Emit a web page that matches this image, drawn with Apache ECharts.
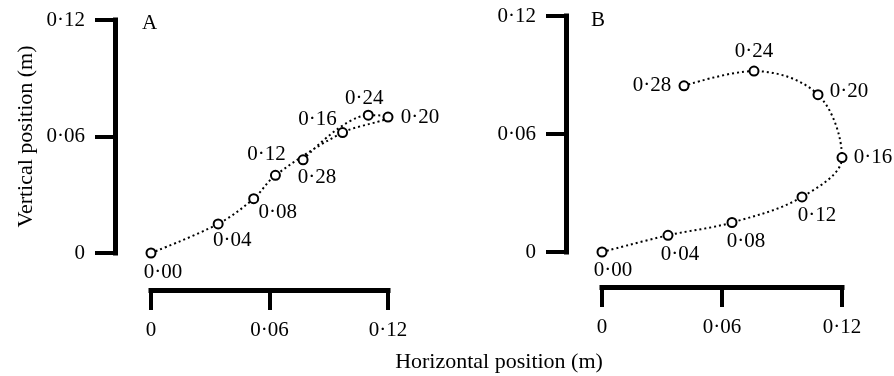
<!DOCTYPE html>
<html>
<head>
<meta charset="utf-8">
<script src="https://cdn.jsdelivr.net/npm/echarts@6/dist/echarts.min.js"></script>
<style>
  html, body { margin: 0; padding: 0; background: #fff; }
  #chart { width: 894px; height: 376px; }
</style>
</head>
<body>
<div id="chart"></div>
<script>
// time of each frame (s)
const times = [0, 0.04, 0.08, 0.12, 0.16, 0.2, 0.24, 0.28];
// panel A positions (m)
const xA = [0, 0.034, 0.052, 0.063, 0.097, 0.120, 0.110, 0.077];
const yA = [0, 0.015, 0.028, 0.040, 0.062, 0.070, 0.071, 0.048];
// panel B positions (m)
const xB = [0, 0.033, 0.065, 0.100, 0.120, 0.108, 0.076, 0.041];
const yB = [0, 0.0085, 0.015, 0.028, 0.048, 0.080, 0.092, 0.0845];
const axisTicks = [0, 0.06, 0.12];

// label offsets from each point (px)
const offA = [[12, 19], [14, 17], [24, 14], [-9, -21], [-25, -13], [32, 0], [-4, -17], [14, 18]];
const offB = [[11, 18], [12, 19], [14, 19], [15, 19], [31, 0], [31, -3], [0, -20], [-32, 0]];

const FONT = '"Liberation Serif", "DejaVu Serif", serif';
const dot = (v) => v.toFixed(2).replace('.', '\u00b7');
const tickFmt = (v) => (v === 0 ? '0' : dot(v));

const axisBase = (gridIndex, offset) => ({
  type: 'value',
  gridIndex,
  min: axisTicks[0],
  max: axisTicks[axisTicks.length - 1],
  interval: axisTicks[1] - axisTicks[0],
  offset,
  splitLine: { show: false },
  axisLine: { show: true, onZero: false, lineStyle: { color: '#000', width: 5, cap: 'square' } },
  axisTick: { show: true, length: 20, lineStyle: { color: '#000', width: 4 } },
  axisLabel: { color: '#000', fontFamily: FONT, fontSize: 21, margin: 30, formatter: tickFmt },
});

const makeSeries = (xs, ys, offs, idx) => ({
  type: 'line',
  xAxisIndex: idx,
  yAxisIndex: idx,
  smooth: 0.35,
  symbol: 'circle',
  symbolSize: 9,
  lineStyle: { color: '#000', width: 2, type: [2, 3] },
  itemStyle: { color: '#fff', borderColor: '#000', borderWidth: 2 },
  label: { show: true, color: '#000', fontFamily: FONT, fontSize: 21 },
  emphasis: { disabled: true },
  data: xs.map((x, i) => ({
    value: [x, ys[i]],
    label: { position: 'inside', offset: offs[i], formatter: dot(times[i]) },
  })),
});

const chart = echarts.init(document.getElementById('chart'));
chart.setOption({
  animation: false,
  backgroundColor: '#fff',
  title: [
    { text: 'A', left: 137, top: 8, textStyle: { fontFamily: FONT, fontSize: 21, fontWeight: 'normal', color: '#000' } },
    { text: 'B', left: 586, top: 5, textStyle: { fontFamily: FONT, fontSize: 21, fontWeight: 'normal', color: '#000' } },
  ],
  grid: [
    { left: 151, top: 20, width: 237, height: 233 },
    { left: 602, top: 16, width: 240, height: 236 },
  ],
  xAxis: [axisBase(0, 37), axisBase(1, 35)],
  yAxis: [
    {
      ...axisBase(0, 36),
      name: 'Vertical position (m)',
      nameLocation: 'middle',
      nameGap: 78,
      nameTextStyle: { color: '#000', fontFamily: FONT, fontSize: 22 },
    },
    axisBase(1, 36),
  ],
  graphic: [
    {
      type: 'text',
      x: 499,
      y: 362,
      style: {
        text: 'Horizontal position (m)',
        fill: '#000',
        font: '22px ' + FONT,
        textAlign: 'center',
        textVerticalAlign: 'middle',
      },
    },
  ],
  series: [makeSeries(xA, yA, offA, 0), makeSeries(xB, yB, offB, 1)],
});
</script>
</body>
</html>
